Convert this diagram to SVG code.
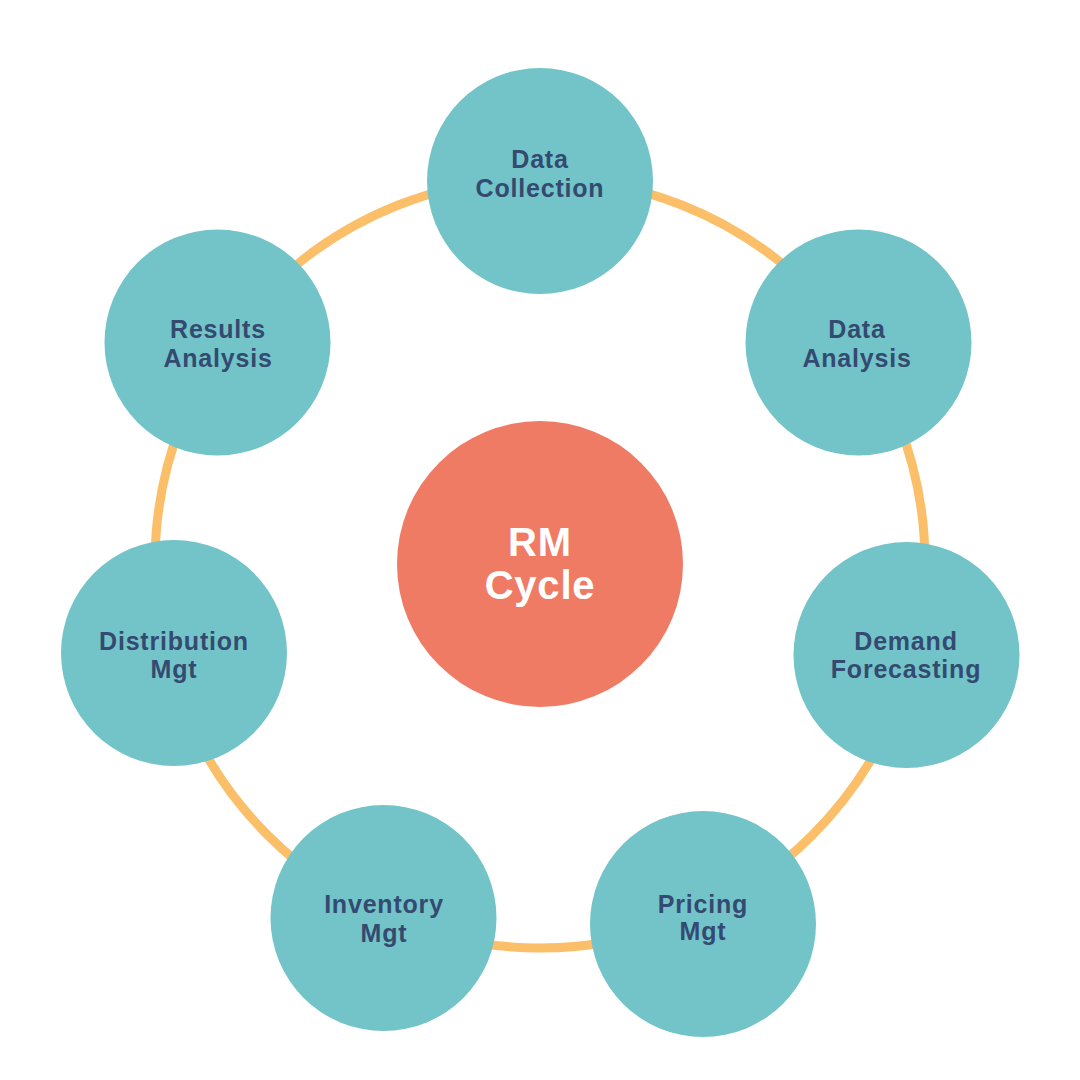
<svg xmlns="http://www.w3.org/2000/svg" width="1080" height="1080" viewBox="0 0 1080 1080">
<style>
.node{fill:#73C4C8}
.lbl{font-family:"Liberation Sans",Arial,sans-serif;font-weight:bold;font-size:25px;fill:#344A70;text-anchor:middle;letter-spacing:0.8px}
.ctr{font-family:"Liberation Sans",Arial,sans-serif;font-weight:bold;font-size:40px;fill:#FFFFFF;text-anchor:middle;letter-spacing:0.8px}
</style>
<rect width="1080" height="1080" fill="#FFFFFF"/>
<g id="connectors">
<circle cx="540" cy="563" r="385" fill="none" stroke="#FCBF69" stroke-width="9"/>
</g>
<g id="center">
<circle cx="540" cy="564" r="143" fill="#EF7B64"/>
<text class="ctr" x="540" y="556">RM</text>
<text class="ctr" x="540" y="599">Cycle</text>
</g>
<g id="data-collection">
<circle class="node" cx="540" cy="181" r="113"/>
<text class="lbl" x="540" y="168">Data</text>
<text class="lbl" x="540" y="197">Collection</text>
</g>
<g id="data-analysis">
<circle class="node" cx="858.5" cy="342.5" r="113"/>
<text class="lbl" x="857" y="338">Data</text>
<text class="lbl" x="857" y="367">Analysis</text>
</g>
<g id="demand-forecasting">
<circle class="node" cx="906.5" cy="655" r="113"/>
<text class="lbl" x="906" y="650">Demand</text>
<text class="lbl" x="906" y="678">Forecasting</text>
</g>
<g id="pricing-mgt">
<circle class="node" cx="703" cy="924" r="113"/>
<text class="lbl" x="703" y="913">Pricing</text>
<text class="lbl" x="703" y="940">Mgt</text>
</g>
<g id="inventory-mgt">
<circle class="node" cx="383.5" cy="918" r="113"/>
<text class="lbl" x="384" y="913">Inventory</text>
<text class="lbl" x="384" y="942">Mgt</text>
</g>
<g id="distribution-mgt">
<circle class="node" cx="174" cy="653" r="113"/>
<text class="lbl" x="174" y="650">Distribution</text>
<text class="lbl" x="174" y="678">Mgt</text>
</g>
<g id="results-analysis">
<circle class="node" cx="217.5" cy="342.5" r="113"/>
<text class="lbl" x="218" y="338">Results</text>
<text class="lbl" x="218" y="367">Analysis</text>
</g>
</svg>
